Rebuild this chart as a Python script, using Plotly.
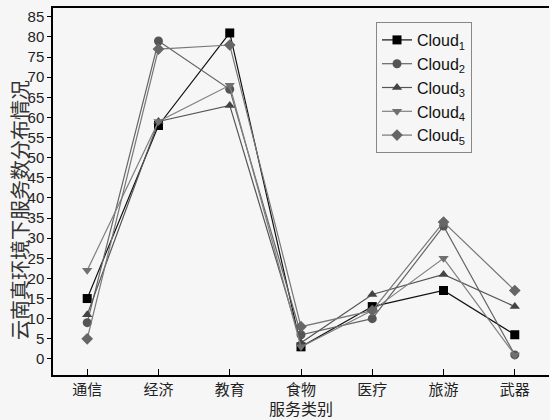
import plotly.graph_objects as go

categories = ["通信", "经济", "教育", "食物", "医疗", "旅游", "武器"]
series_names = ["Cloud<sub>1</sub>", "Cloud<sub>2</sub>", "Cloud<sub>3</sub>", "Cloud<sub>4</sub>", "Cloud<sub>5</sub>"]
cloud1 = [15, 58, 81, 3, 13, 17, 6]
cloud2 = [9, 79, 67, 6, 10, 33, 1]
cloud3 = [11, 59, 63, 4, 16, 21, 13]
cloud4 = [22, 59, 68, 3, 12, 25, 1]
cloud5 = [5, 77, 78, 8, 12, 34, 17]
y_ticks = list(range(0, 90, 5))

values = [cloud1, cloud2, cloud3, cloud4, cloud5]
symbols = ["square", "circle", "triangle-up", "triangle-down", "diamond"]
marker_colors = ["#000000", "#555555", "#444444", "#707070", "#666666"]
line_colors = ["#111111", "#666666", "#555555", "#808080", "#777777"]

fig = go.Figure()
for name, vals, sym, mc, lc in zip(series_names, values, symbols, marker_colors, line_colors):
    fig.add_trace(go.Scatter(
        x=list(range(len(categories))), y=vals, name=name,
        mode="lines+markers",
        line=dict(color=lc, width=1.2),
        marker=dict(symbol=sym, size=9, color=mc, line=dict(width=0)),
    ))

bg = "#f6f6f6"
fig.update_layout(
    width=550, height=420,
    margin=dict(l=53, r=1, t=8, b=45),
    paper_bgcolor=bg, plot_bgcolor=bg,
    font=dict(family="Liberation Sans, Arial", size=14, color="#222222"),
    showlegend=True,
    legend=dict(
        x=(376 - 53) / 496, y=(375 - 22) / 367, xanchor="left", yanchor="top",
        bgcolor=bg, bordercolor="#888888", borderwidth=1,
        font=dict(size=16, color="#111111"),
        itemwidth=30, tracegroupgap=0,
    ),
    xaxis=dict(
        range=[-0.48, 6.48],
        tickmode="array", tickvals=list(range(len(categories))), ticktext=categories,
        tickfont=dict(family="Noto Sans CJK SC", size=15, color="#222222"),
        showgrid=False, zeroline=False, automargin=False,
        showline=True, linecolor="#000000", linewidth=1.5, mirror=True,
        ticks="inside", ticklen=6, tickcolor="#000000",
    ),
    yaxis=dict(
        range=[-4, 87.2],
        tickmode="array", tickvals=y_ticks,
        tickfont=dict(size=15, color="#222222"),
        showgrid=False, zeroline=False, automargin=False,
        showline=True, linecolor="#000000", linewidth=1.5,
        ticks="outside", ticklen=4, tickcolor="#000000",
    ),
    annotations=[
        dict(text="云南真环境下服务数分布情况", textangle=-90,
             xref="paper", yref="paper", x=(19 - 53) / 496, y=(375 - 210) / 367,
             xanchor="center", yanchor="middle", showarrow=False,
             font=dict(family="Noto Sans CJK SC", size=20, color="#333333")),
        dict(text="服务类别",
             xref="paper", yref="paper", x=0.5, y=(375 - 408) / 367,
             xanchor="center", yanchor="middle", showarrow=False,
             font=dict(family="Noto Sans CJK SC", size=16, color="#222222")),
    ],
)

fig.write_html("out.html", config={"displayModeBar": False},
               post_script="document.body.style.margin='0';document.body.style.padding='0';")
